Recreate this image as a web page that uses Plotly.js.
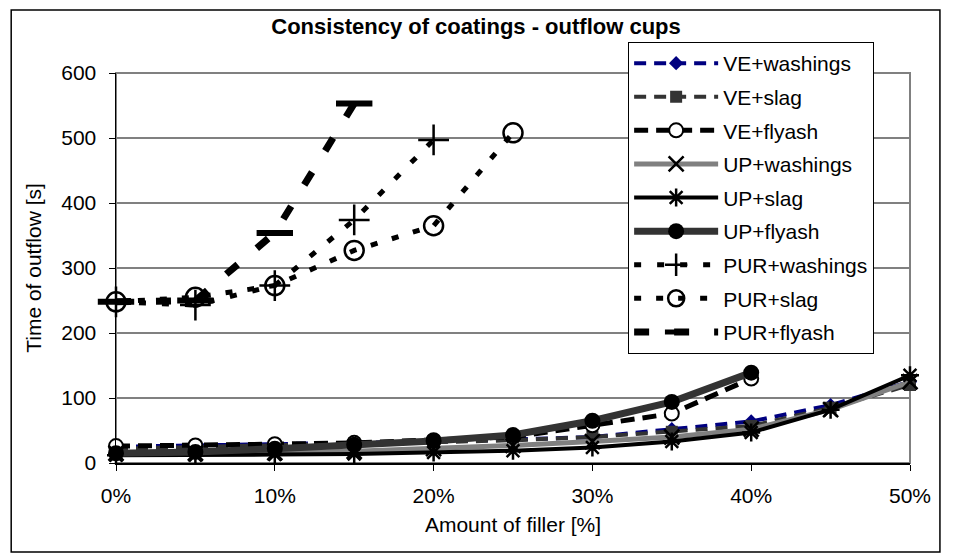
<!DOCTYPE html>
<html>
<head>
<meta charset="utf-8">
<script src="https://cdn.plot.ly/plotly-3.0.1.min.js"></script>
<style>html,body{margin:0;padding:0;background:#fff;}#chart{width:954px;height:560px;}</style>
</head>
<body>
<div id="chart"></div>
<script>
// Amount of filler (fraction) and time of outflow [s]
const fillerLong = [0, 0.05, 0.10, 0.15, 0.20, 0.25, 0.30, 0.35, 0.40, 0.45, 0.50];
const fillerMid = [0, 0.05, 0.10, 0.15, 0.20, 0.25, 0.30, 0.35, 0.40];
const fillerPurWash = [0, 0.05, 0.10, 0.15, 0.20];
const fillerPurSlag = [0, 0.05, 0.10, 0.15, 0.20, 0.25];
const fillerPurFly = [0, 0.05, 0.10, 0.15];

const veWashings = [25, 27, 28, 30, 33, 36, 40, 52, 64, 89, 125];
const veSlag = [22, 25, 27, 30, 32, 35, 40, 48, 57, 85, 120];
const veFlyash = [26, 27, 29, 31, 35, 40, 58, 76, 130];
const upWashings = [15, 15, 16, 18, 22, 27, 33, 40, 52, 82, 125];
const upSlag = [12, 12, 13, 14, 16, 19, 24, 33, 47, 82, 135];
const upFlyash = [15, 17, 22, 28, 34, 43, 65, 94, 139];
const purWashings = [248, 243, 273, 374, 497];
const purSlag = [248, 255, 273, 327, 365, 508];
const purFlyash = [248, 250, 354, 553];

const seriesNames = ['VE+washings', 'VE+slag', 'VE+flyash', 'UP+washings', 'UP+slag', 'UP+flyash',
                     'PUR+washings', 'PUR+slag', 'PUR+flyash'];

function tr(i, x, y, line, marker) {
  return {type: 'scatter', mode: 'lines+markers', name: seriesNames[i], x: x, y: y,
          legendgroup: 'g' + i, line: line, marker: marker, cliponaxis: false};
}

const traces = [
  tr(0, fillerLong, veWashings, {color: '#000080', width: 4, dash: '12px,8px'},
     {symbol: 'diamond', size: 11, color: '#000080'}),
  tr(1, fillerLong, veSlag, {color: '#333333', width: 4, dash: '12px,8px'},
     {symbol: 'square', size: 12, color: '#333333'}),
  tr(2, fillerMid, veFlyash, {color: '#000000', width: 5, dash: '14px,8px'},
     {symbol: 'circle', size: 14, color: '#ffffff', line: {color: '#000000', width: 2}}),
  tr(3, fillerLong, upWashings, {color: '#808080', width: 5},
     {symbol: 'x-thin-open', size: 15, color: '#000000', line: {color: '#000000', width: 2.5}}),
  tr(4, fillerLong, upSlag, {color: '#000000', width: 4},
     {symbol: 'asterisk-open', size: 15, color: '#000000', line: {color: '#000000', width: 2.5}}),
  tr(5, fillerMid, upFlyash, {color: '#333333', width: 7},
     {symbol: 'circle', size: 16, color: '#000000'}),
  tr(6, fillerPurWash, purWashings, {color: '#000000', width: 5, dash: '7px,16px'},
     {symbol: 'cross-thin-open', size: 22, color: '#000000', line: {color: '#000000', width: 2.5}}),
  tr(7, fillerPurSlag, purSlag, {color: '#000000', width: 5, dash: '7px,15px'},
     {symbol: 'circle-open', size: 19, color: '#000000', line: {color: '#000000', width: 2.5}}),
  tr(8, fillerPurFly, purFlyash, {color: '#000000', width: 7, dash: '15px,25px'},
     {symbol: 'line-ew-open', size: 26, color: '#000000', line: {color: '#000000', width: 6}})
];

const FONT = 'Liberation Sans, Arial, sans-serif';

const layout = {
  width: 954, height: 560,
  margin: {l: 116, r: 44, t: 73, b: 97},
  paper_bgcolor: '#ffffff', plot_bgcolor: '#ffffff',
  font: {family: FONT, size: 21, color: '#000000'},
  showlegend: true,
  title: {text: '<b>Consistency of coatings - outflow cups</b>', font: {family: FONT, size: 22, color: '#000'},
          x: 0.499, xref: 'container', xanchor: 'center', y: 0.953, yref: 'container', yanchor: 'middle'},
  xaxis: {range: [0, 0.5], dtick: 0.1, tick0: 0, tickformat: '.0%', showgrid: false, zeroline: false,
          showline: true, linecolor: '#000', linewidth: 1.5, ticks: 'outside', ticklen: 6, tickcolor: '#000',
          tickfont: {family: FONT, size: 21}, ticklabelstandoff: 7,
          title: {text: 'Amount of filler [%]', font: {family: FONT, size: 21}, standoff: 11}},
  yaxis: {range: [0, 600], dtick: 100, tick0: 0, showgrid: true, gridcolor: '#808080', gridwidth: 1.5,
          zeroline: false, showline: true, linecolor: '#000', linewidth: 1.5, ticks: 'outside', ticklen: 6,
          tickcolor: '#000', tickfont: {family: FONT, size: 21}, ticklabelstandoff: 8,
          title: {text: 'Time of outflow [s]', font: {family: FONT, size: 21}, standoff: 14}},
  legend: {x: 0.645, y: 1.0795, xanchor: 'left', yanchor: 'top', bgcolor: '#ffffff',
           bordercolor: '#000', borderwidth: 1, font: {family: FONT, size: 21, color: '#000'},
           itemwidth: 84, traceorder: 'grouped', tracegroupgap: 3.3, maxheight: 420},
  shapes: [
    {type: 'rect', xref: 'paper', yref: 'paper', x0: 0, x1: 1, y0: 0, y1: 1,
     line: {color: '#808080', width: 2}, layer: 'below'},
    {type: 'rect', xref: 'paper', yref: 'paper', x0: -0.132, x1: 1.0377, y0: -0.228, y1: 1.1615,
     line: {color: '#000', width: 1.5}, layer: 'below'}
  ]
};

Plotly.newPlot('chart', traces, layout, {displayModeBar: false, staticPlot: true});
</script>
</body>
</html>
